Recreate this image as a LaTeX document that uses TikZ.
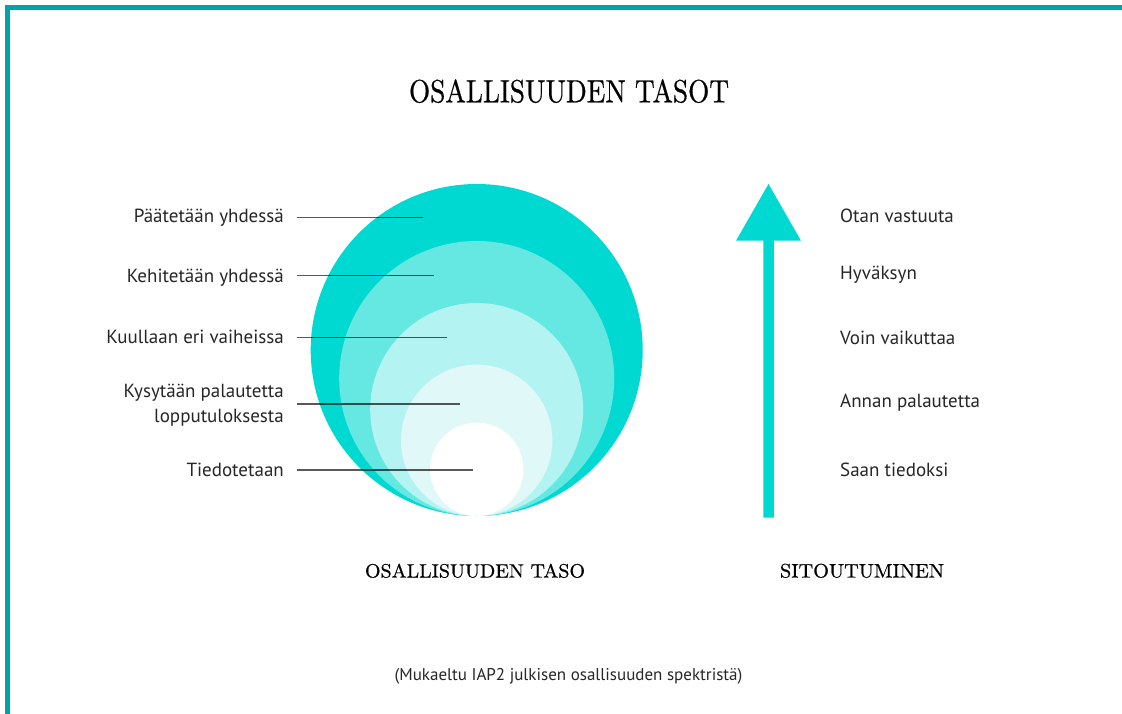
\documentclass[tikz,border=0pt]{standalone}
\usepackage{fontspec}
\setmainfont{Latin Modern Roman}
\newfontfamily\labfont{PT Sans}
\newfontfamily\headfont[FakeBold=0.6]{Latin Modern Roman}
\usepackage{graphicx}
\definecolor{cA}{HTML}{00D9D2}
\definecolor{cB}{HTML}{66E8E2}
\definecolor{cC}{HTML}{B3F3F1}
\definecolor{cD}{HTML}{E0F8F8}
\definecolor{frameC}{HTML}{00A3A8}
\tikzset{
  lab/.style={inner sep=0pt, font=\labfont\fontsize{19}{23}\selectfont, text=black!85},
  labL/.style={lab, anchor=base east},
  labR/.style={lab, anchor=base west},
  heading/.style={inner sep=0pt, anchor=base, text=black, font=\headfont},
  ring/.style={circle, inner sep=0pt, draw=none},
  leader/.style={draw=black, draw opacity=0.65, line width=1.1pt}
}
\begin{document}
\begin{tikzpicture}[x=1pt,y=-1pt]
\useasboundingbox (0,0) rectangle (1122,713);
\clip (0,0) rectangle (1122,713);
\fill[white] (0,0) rectangle (1122,713);
% frame
\draw[frameC, line width=4.5pt] (7.5,740) -- (7.5,7.5) -- (1150,7.5);
% title
\node[heading] (title) at (569,102.3) {\resizebox{320pt}{23pt}{OSALLISUUDEN TASOT}};
% circles
\node[ring, fill=cA, minimum size=332pt] (r1) at (476.7,350) {};
\node[ring, fill=cB, minimum size=275pt] (r2) at (476.7,378.5) {};
\node[ring, fill=cC, minimum size=213pt] (r3) at (476.7,409.5) {};
\node[ring, fill=cD, minimum size=151.4pt] (r4) at (476.7,440.3) {};
\node[ring, fill=white, minimum size=93.4pt] (r5) at (476.7,469.3) {};
% left labels
\node[labL] (p1) at (284,222.3) {Päätetään yhdessä};
\node[labL] (p2) at (284,282.3) {Kehitetään yhdessä};
\node[labL] (p3) at (284,343.7) {Kuullaan eri vaiheissa};
\node[labL] (p4) at (284,397.3) {\vtop{\baselineskip=25pt\halign{\hfil#\cr Kysytään palautetta\cr lopputuloksesta\cr}}};
\node[labL] (p5) at (284,476.3) {Tiedotetaan};
% leader lines
\coordinate (a1) at (297,217.3); \coordinate (b1) at (422.7,217.3);
\coordinate (a2) at (297,275.3); \coordinate (b2) at (434.3,275.3);
\coordinate (a3) at (297,337.7); \coordinate (b3) at (447,337.7);
\coordinate (a4) at (297,404);   \coordinate (b4) at (460,404);
\coordinate (a5) at (297,470);   \coordinate (b5) at (473.3,470);
\foreach \i in {1,...,5} {\draw[leader] (a\i) -- (b\i);}
% arrow
\fill[cA] (763.3,517.7) -- (763.3,240.7) -- (736,240.7) -- (768.5,184)
  -- (801,240.7) -- (773.9,240.7) -- (773.9,517.7) -- cycle;
% right labels
\node[labR] (s1) at (840,222.7) {Otan vastuuta};
\node[labR] (s2) at (840,279.3) {Hyväksyn};
\node[labR] (s3) at (840,344.3) {Voin vaikuttaa};
\node[labR] (s4) at (840,407.3) {Annan palautetta};
\node[labR] (s5) at (840,476.7) {Saan tiedoksi};
% bottom headings
\node[heading] (h1) at (475,577.5) {\resizebox{220pt}{13.8pt}{OSALLISUUDEN TASO}};
\node[heading] (h2) at (862,577.5) {\resizebox{164pt}{13.8pt}{SITOUTUMINEN}};
% footer
\node[lab, anchor=base, font=\labfont\fontsize{17}{20}\selectfont] (foot) at (568.5,680.5) {(Mukaeltu IAP2 julkisen osallisuuden spektristä)};
\end{tikzpicture}
\end{document}
